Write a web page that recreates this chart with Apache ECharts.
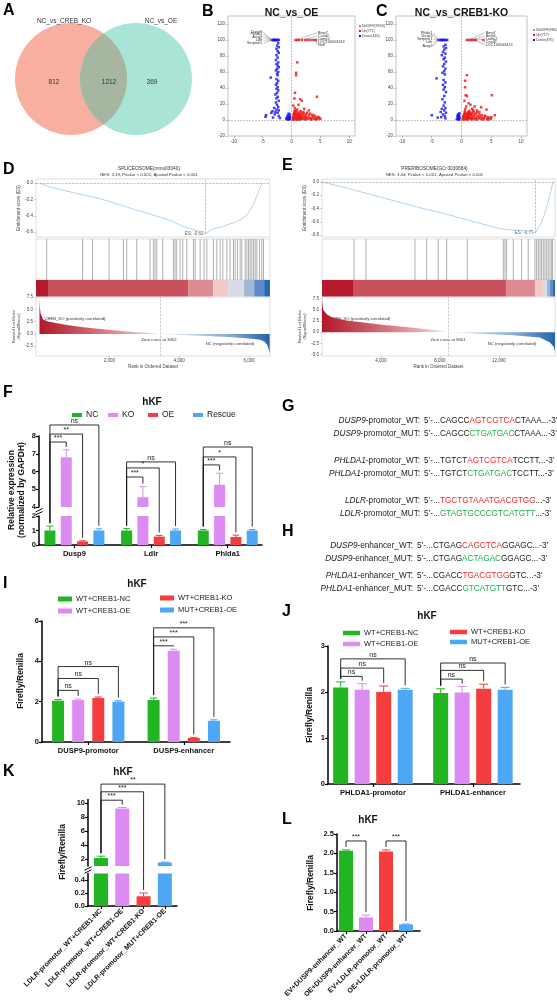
<!DOCTYPE html>
<html>
<head>
<meta charset="utf-8">
<script src="https://cdn.jsdelivr.net/npm/echarts@6/dist/echarts.min.js"></script>
<style>
  html, body { margin: 0; padding: 0; background: #fff; }
  #chart { width: 557px; height: 1002px; }
</style>
</head>
<body>
<div id="chart"></div>
<script>
// ---------------- data ----------------
const vennSets = ['NC_vs_CREB_KO', 'NC_vs_OE']
const vennCounts = [812, 1212, 369]

const bTitle = 'NC_vs_OE'
const cTitle = 'NC_vs_CREB1-KO'
const bLegend = ['NoDIFF(9953)', 'Up(771)', 'Down(446)']
const cLegend = ['NoDIFF(9802)', 'Up(717)', 'Down(495)']
const volcXTicks = [-10, -5, 0, 5, 10]
const volcYTicks = [-20, 0, 20, 40, 60, 80, 100, 120]

const bBlue = [[-3.4,100],[-3.2,100],[-3.0,100],[-2.8,100],[-2.6,100],[-2.4,100],[-2.2,100],[-3.1,100],[-2.9,100],[-2.5,100],
  [-2.3,96],[-2.5,93],[-2.2,91],[-2.6,89],[-2.4,86],[-2.2,84],[-2.6,81],[-2.4,78],[-2.7,75],[-2.3,72],[-2.6,70],[-2.4,68],[-2.2,66],[-2.5,64],[-2.7,62],[-2.3,60],[-2.5,58],[-2.4,56],[-3.6,53],[-2.6,51],[-2.3,49],[-2.5,46],[-2.7,44],[-2.4,41],[-2.6,39],[-2.3,37],[-2.5,34],[-2.8,32],[-2.4,29],[-2.6,27],[-2.2,24],[-2.7,22],[-2.5,19],[-2.3,16],[-3.0,15],[-2.6,13],[-2.2,12],[-3.3,11],[-2.8,10],[-2.4,9],[-3.5,9],[-2.9,7],[-4.4,6],[-4.5,4],[-2.2,5],[-3.2,3],[-2.0,2.5],
  [-0.4,0.5],[-0.6,1.2],[-0.3,2],[-0.8,2.6],[-0.5,3.4],[-0.4,4.5],[-0.7,5.5],[-0.3,6.8],[-0.5,8],[-0.9,1.5],[-0.6,0.3],[-0.35,1.0],[-0.45,2.8],[-0.55,4.0],[-0.3,3.5]]
const bRed = [[0.7,100],[1.0,100],[1.3,100],[1.8,100],[2.4,100],[2.8,100],[3.3,100],[3.8,100],[4.2,100],
  [1.0,72],[0.8,59],[0.8,56],[0.6,34],[0.5,27],[1.5,26],[1.8,24],[4.4,29],[0.3,18],[1.2,19],[0.6,15],[2.2,14],[1.0,13],[3.0,12],
  [0.2,0.5],[0.3,1.5],[0.4,3],[0.5,5],[0.5,8],[0.6,10],[0.7,2],[0.8,4],[0.9,6],[1.0,9],[1.1,1],[1.2,3],[1.3,5],[1.4,7],[1.5,2],[1.6,11],[1.7,4],[1.8,1.5],[1.9,6],[2.0,3],[2.1,8],[2.2,1],[2.3,5],[2.4,2.5],[2.6,4],[2.8,1.5],[3.0,6],[3.1,3],[3.3,1],[3.5,2.5],[3.7,4.5],[3.9,1.5],[4.1,3],[4.4,1],[4.7,2],[5.0,1.5],
  [0.25,4],[0.35,6.5],[0.45,9],[0.55,12],[0.65,7],[0.75,0.8],[0.85,11],[0.95,2.8],[1.05,4.8],[1.15,7.5],[1.25,0.6],[1.35,9.5],[1.45,3.6],[1.55,5.8],[1.75,8.5],[2.05,10],[2.5,7],[2.7,9],[3.2,8],[3.6,6.5],[4.0,5.5],[4.5,4],[4.8,3.2],[0.3,0.3],[0.9,0.4],[1.6,0.5],[2.5,0.6],[3.4,0.4],[4.2,0.5]]
const cBlue = [[-3.9,100],[-3.6,100],[-3.3,100],[-3.0,100],[-2.8,100],[-2.6,100],[-2.4,100],[-3.45,100],[-3.15,100],
  [-2.7,94],[-3.0,92],[-2.6,90],[-2.9,88],[-3.1,85],[-2.7,83],[-3.3,81],[-2.8,78],[-3.0,76],[-2.6,73],[-2.9,70],[-3.1,67],[-2.7,64],[-2.9,61],[-3.2,59],[-2.8,57],[-4.2,52],[-3.0,50],[-2.7,47],[-3.1,44],[-2.8,41],[-3.0,38],[-2.6,35],[-2.9,30],[-3.2,26],[-2.8,22],[-3.0,18],[-2.7,15],[-3.3,14],[-2.9,12],[-3.5,10],[-2.6,9],[-3.1,7],[-2.8,5],[-5.0,6],[-4.0,3],[-3.4,3.5],[-2.7,2],
  [-0.4,0.5],[-0.6,1.5],[-0.3,2.5],[-0.5,3.5],[-0.7,4.5],[-0.4,5.5],[-0.6,7],[-0.35,8.5],[-0.8,1],[-0.5,0.3],[-0.45,6.3],[-0.55,2.2]]
const cRed = [[0.9,100],[1.2,100],[1.5,100],[1.8,100],[2.1,100],[2.4,100],[3.7,100],
  [0.9,56],[0.6,49],[0.6,41],[0.7,31],[0.9,30],[5.1,31],[0.5,24],[1.2,21],[1.5,19],[2.2,17],[3.3,16],[1.8,14],[0.8,17],[2.6,12],[4.2,13],[3.0,10],[5.6,6],[5.0,3.5],
  [0.2,0.6],[0.3,2],[0.4,3.5],[0.5,6],[0.6,9],[0.7,1.2],[0.8,3],[0.9,5],[1.0,7.5],[1.1,10],[1.2,2],[1.3,4],[1.4,6],[1.5,8.5],[1.6,1],[1.7,3],[1.8,5.5],[1.9,12],[2.0,2],[2.1,4.5],[2.2,7],[2.3,1],[2.5,3],[2.7,5],[2.9,2],[3.1,4],[3.3,1.5],[3.5,3],[3.8,2],[4.0,4.5],[4.3,1],[4.6,2.5],[4.9,1.5],
  [0.3,5],[0.45,7.5],[0.55,11],[0.65,14],[0.75,4],[0.85,8],[0.95,1],[1.05,3.5],[1.15,6],[1.25,9],[1.35,11.5],[1.45,2.5],[1.65,7],[1.85,9],[2.05,10.5],[2.4,8],[2.6,9.5],[3.0,7],[3.4,6],[3.9,5.5],[4.4,3.5],[0.4,0.3],[1.0,0.4],[1.8,0.5],[2.6,0.5],[3.6,0.4],[4.5,0.4]]

// gene labels: [text x, text y, point x, point y]
const bLabelNames = ['Dusp9', 'Phlda1', 'Arsg3', 'Ldlr', 'Serpine1', 'Bmp7', 'Ccnd2', 'Lamp2', 'LOC100503413', 'Nefl']
const bLabelPts = [[-4.9,110,-3.4,100],[-4.9,107.5,-3.4,100],[-4.9,104,-3.4,100],[-4.9,100,-3.4,100],[-4.9,96,-3.4,100],
  [4.4,109,0.7,100],[4.4,105,1.8,100],[4.4,101,2.8,100],[4.4,98,3.8,100],[4.4,94,4.2,100]]
const cLabelNames = ['Phlda1', 'Dusp9', 'Serpine1', 'Ldlr', 'Arsg3', 'Bmp7', 'Bmp6', 'Lamp2', 'Ccnd2', 'LOC100503413']
const cLabelPts = [[-4.7,109,-3.9,100],[-4.7,105.5,-3.9,100],[-4.7,101,-3.9,100],[-4.7,97,-3.9,100],[-4.7,93,-3.9,100],
  [3.9,109,1.2,100],[3.9,105,1.8,100],[3.9,101,2.4,100],[3.9,97.5,3.7,100],[3.9,94,2.1,100]]

// GSEA D
const dTitle = 'SPLICEOSOME(mmu03040)'
const dStats = 'NES: 3.19, Pvalue < 0.001, Ajusted Pvalue < 0.001'
const dEsRank = [0, 243, 600, 1000, 1733, 2400, 3166, 3700, 4112, 4500, 4742, 4971, 5100, 5250, 5372, 5450, 5544, 5650, 5745, 5946, 6117, 6261, 6375]
const dEsVal = [0, -0.04, -0.08, -0.12, -0.19, -0.28, -0.38, -0.45, -0.53, -0.58, -0.62, -0.56, -0.55, -0.53, -0.51, -0.5, -0.49, -0.47, -0.45, -0.39, -0.27, -0.12, 0]
const dPeak = [4742, -0.62]
const dHits = [206, 1232, 1519, 1991, 2401, 2498, 2785, 3166, 3261, 3309, 3358, 3530, 3834, 3882, 3930, 4026, 4103, 4218, 4408, 4456, 4599, 4713, 4790, 4981, 5077, 5172, 5249, 5364, 5458, 5554, 5602, 5668, 5745, 5793, 5888, 5937, 5985, 6032, 6080, 6129, 6175, 6224, 6298, 6366, 6413]
const dBandEdges = [-100, 244, 4255, 4971, 5401, 5859, 6146, 6433, 6600]
const dMetricRank = [0, 10, 30, 100, 250, 500, 788, 1200, 1733, 2200, 2679, 3100, 3452, 4000, 4599, 5100, 5544, 6000, 6318, 6450, 6519, 6560, 6590]
const dMetricVal = [7.4, 5.5, 4.2, 2.9, 2.5, 2.15, 1.8, 1.4, 1.0, 0.7, 0.4, 0.18, 0, -0.2, -0.4, -0.55, -0.7, -0.95, -1.2, -1.6, -2.2, -3.0, -3.9]
const dZero = 3452

// GSEA E
const eTitle = 'PRERIBOSOME(GO:0030684)'
const eStats = 'NES: 3.44, Pvalue < 0.001, Ajusted Pvalue < 0.001'
const eEsRank = [0, 1500, 2300, 3000, 4000, 5000, 6000, 7000, 8000, 9000, 10000, 11000, 12000, 12600, 13500, 14000, 14441, 14800, 15100, 15400, 15660]
const eEsVal = [0, -0.08, -0.13, -0.17, -0.23, -0.29, -0.35, -0.41, -0.46, -0.52, -0.58, -0.64, -0.7, -0.72, -0.73, -0.74, -0.77, -0.65, -0.48, -0.25, 0]
const ePeak = [14441, -0.77]
const eHits = [2169, 2983, 6305, 7098, 7885, 8454, 9851, 12292, 12407, 12520, 12969, 13537, 13983, 14441, 14554, 14667, 14780, 14893, 15006, 15119, 15232, 15345, 15458, 15571, 15638]
const eBandEdges = [0, 2102, 12475, 14441, 14983, 15254, 15458, 15661, 15800]
const eMetricRank = [0, 68, 339, 746, 1675, 3932, 6170, 8454, 8561, 10712, 12949, 14780, 15458, 15700, 15797]
const eMetricVal = [7.3, 5.0, 3.9, 3.2, 2.6, 1.7, 1.0, 0.15, 0, -0.35, -0.7, -1.2, -2.3, -3.2, -4.2]
const eZero = 8561

// F: qPCR
const fGenes = ['Dusp9', 'Ldlr', 'Phlda1']
const fConds = ['NC', 'KO', 'OE', 'Rescue']
const fMean = [[1.0, 6.8, 0.25, 1.0], [1.0, 4.55, 0.58, 1.0], [1.0, 5.25, 0.55, 1.0]]
const fErr = [[0.3, 0.42, 0.04, 0.12], [0.13, 0.6, 0.08, 0.1], [0.07, 0.65, 0.13, 0.07]]
// [group, from bar, to bar, bracket height, label]
const fSig = [[0, 0, 1, 7.66, '***'], [0, 0, 2, 8.11, '**'], [0, 0, 3, 8.62, 'ns'],
  [1, 0, 1, 5.69, '***'], [1, 0, 2, 6.2, '*'], [1, 0, 3, 6.54, 'ns'],
  [2, 0, 1, 6.37, '***'], [2, 0, 2, 6.82, '*'], [2, 0, 3, 7.38, 'ns']]

// G / H: binding sites [gene, site, before, motif, after, kind]
const gRows = [
  ['DUSP9', '-promotor_WT:', '5\u2019-...CAGCC', 'AGTCGTCA', 'CTAAA...-3\u2019', 'wt'],
  ['DUSP9', '-promotor_MUT:', '5\u2019-...CAGCC', 'CTGATGAC', 'CTAAA...-3\u2019', 'mut'],
  ['PHLDA1', '-promotor_WT:', '5\u2019-...TGTCT', 'AGTCGTCA', 'TCCTT...-3\u2019', 'wt'],
  ['PHLDA1', '-promotor_MUT:', '5\u2019-...TGTCT', 'CTGATGAC', 'TCCTT...-3\u2019', 'mut'],
  ['LDLR', '-promotor_WT:', '5\u2019-...', 'TGCTGTAAATGACGTGG', '...-3\u2019', 'wt'],
  ['LDLR', '-promotor_MUT:', '5\u2019-...', 'GTAGTGCCCGTCATGTT', '...-3\u2019', 'mut']]
const hRows = [
  ['DUSP9', '-enhancer_WT:', '5\u2019-...CTGAG', 'CAGCTCA', 'GGAGC...-3\u2019', 'wt'],
  ['DUSP9', '-enhancer_MUT:', '5\u2019-...CTGAG', 'ACTAGAC', 'GGAGC...-3\u2019', 'mut'],
  ['PHLDA1', '-enhancer_WT:', '5\u2019-...CGACC', 'TGACGTGG', 'GTC...-3\u2019', 'wt'],
  ['PHLDA1', '-enhancer_MUT:', '5\u2019-...CGACC', 'GTCATGTT', 'GTC...-3\u2019', 'mut']]

// I / J: luciferase
const lucConds = ['WT+CREB1-NC', 'WT+CREB1-OE', 'WT+CREB1-KO', 'MUT+CREB1-OE']
const iGroups = ['DUSP9-promotor', 'DUSP9-enhancer']
const iMean = [[2.05, 2.08, 2.18, 2.0], [2.08, 4.52, 0.2, 1.05]]
const iErr = [[0.06, 0.05, 0.05, 0.05], [0.1, 0.08, 0.03, 0.05]]
const iSig = [[0, 0, 1, 2.56, 'ns'], [0, 0, 2, 3.15, 'ns'], [0, 0, 3, 3.74, 'ns'],
  [1, 0, 1, 4.77, '***'], [1, 0, 2, 5.21, '***'], [1, 0, 3, 5.66, '***']]
const jGroups = ['PHLDA1-promotor', 'PHLDA1-enhancer']
const jMean = [[2.1, 2.05, 2.0, 2.05], [1.98, 1.99, 2.07, 2.05]]
const jErr = [[0.12, 0.13, 0.13, 0.03], [0.09, 0.13, 0.1, 0.05]]
const jSig = [[0, 0, 1, 2.34, 'ns'], [0, 0, 2, 2.52, 'ns'], [0, 0, 3, 2.72, 'ns'],
  [1, 0, 1, 2.28, 'ns'], [1, 0, 2, 2.47, 'ns'], [1, 0, 3, 2.63, 'ns']]

// K / L
const kNames = ['LDLR-promotor_WT+CREB1-NC', 'LDLR-promotor_WT+CREB1-OE', 'LDLR-promotor_WT+CREB1-KO', 'LDLR-promotor_MUT+CREB1-OE']
const kMean = [[2.15, 9.2, 0.15, 1.5]]
const kErr = [[0.25, 0.15, 0.05, 0.05]]
const kSig = [[0, 0, 1, 10.4, '***'], [0, 0, 2, 11.6, '***'], [0, 0, 3, 12.7, '**']]
const lNames = ['EV+DUSP9-enhancer_WT', 'OE+DUSP9-enhancer_WT', 'EV+LDLR-promotor_WT', 'OE+LDLR-promotor_WT']
const lMean = [[2.07, 0.35, 2.05, 0.17]]
const lErr = [[0.02, 0.06, 0.04, 0.01]]
const lSig = [[0, 0, 1, 2.32, '***'], [0, 2, 3, 2.32, '***']]

// ---------------- styles ----------------
const FONT = 'Liberation Sans, Arial, Helvetica, sans-serif'
const COND_COLORS = ['#22B522', '#DB8BF2', '#F53D3D', '#4EA7F5']
const BAND_COLORS = ['#B5192D', '#C9515D', '#DC8C91', '#F2CACA', '#D9DCE6', '#9EB7D7', '#5F8CC6', '#2A66B0']

function hasFont(name) {
  const c = document.createElement('canvas').getContext('2d')
  c.font = '20px monospace'
  const a = c.measureText('DUSP9-promotor_WT').width
  c.font = '20px "' + name + '", monospace'
  return c.measureText('DUSP9-promotor_WT').width !== a
}
const NARROW = hasFont('Liberation Sans Narrow')
const SEQ_FONT = NARROW ? '"Liberation Sans Narrow", sans-serif' : FONT
const SEQ_SIZE = NARROW ? 9.8 : 8.2

const grids = [], xAxes = [], yAxes = [], series = [], graphics = []

function addGrid(g, x, y) {
  grids.push(g)
  const i = grids.length - 1
  x.gridIndex = i
  y.gridIndex = i
  x.axisLine = Object.assign({ onZero: false }, x.axisLine || {})
  y.axisLine = Object.assign({ onZero: false }, y.axisLine || {})
  xAxes.push(x)
  yAxes.push(y)
  return i
}

function txt(x, y, text, o) {
  o = o || {}
  graphics.push({
    type: 'text', x: x, y: y, rotation: o.rotation || 0, silent: true,
    style: {
      text: text, fontSize: o.size || 8, fontWeight: o.weight || 'normal', fontStyle: o.style || 'normal',
      fontFamily: o.family || FONT, fill: o.color || '#111',
      align: o.align || 'center', verticalAlign: o.valign || 'middle'
    }
  })
}
function seg(x1, y1, x2, y2, color, w) {
  graphics.push({ type: 'line', silent: true, shape: { x1: x1, y1: y1, x2: x2, y2: y2 }, style: { stroke: color, lineWidth: w } })
}
function box(x, y, w, h, color) {
  graphics.push({ type: 'rect', silent: true, shape: { x: x, y: y, width: w, height: h }, style: { fill: color } })
}

// ---------------- A: venn ----------------
const vennL = [71, 79, 56], vennR = [136, 79, 56]
graphics.push({ type: 'circle', silent: true, shape: { cx: vennL[0], cy: vennL[1], r: vennL[2] }, style: { fill: '#F9AF9F' } })
graphics.push({ type: 'circle', silent: true, shape: { cx: vennR[0], cy: vennR[1], r: vennR[2] }, style: { fill: '#A9E4D7' } })
;(function () {
  // overlap lens outline from the two circle arcs
  const half = Math.acos((vennR[0] - vennL[0]) / 2 / vennL[2])
  const pts = []
  for (let k = 0; k <= 40; k++) {
    const a = -half + 2 * half * k / 40
    pts.push([vennL[0] + vennL[2] * Math.cos(a), vennL[1] + vennL[2] * Math.sin(a)])
  }
  for (let k = 0; k <= 40; k++) {
    const a = Math.PI - half + 2 * half * k / 40
    pts.push([vennR[0] + vennR[2] * Math.cos(a), vennR[1] + vennR[2] * Math.sin(a)])
  }
  graphics.push({ type: 'polygon', silent: true, shape: { points: pts }, style: { fill: '#A6B6A1' } })
})()
txt(64, 21, vennSets[0], { size: 6.5, color: '#333' })
txt(161, 21, vennSets[1], { size: 6.5, color: '#333' })
txt(54, 82, String(vennCounts[0]), { size: 6.5, color: '#333' })
txt(109, 82, String(vennCounts[1]), { size: 6.5, color: '#333' })
txt(152, 82, String(vennCounts[2]), { size: 6.5, color: '#333' })

// ---------------- B, C: volcano ----------------
function volcLabelItem(names) {
  return function (params, api) {
    const t = api.coord([api.value(0), api.value(1)])
    const q = api.coord([api.value(2), api.value(3)])
    const left = api.value(0) < 0
    return {
      type: 'group', children: [
        { type: 'line', shape: { x1: t[0], y1: t[1], x2: q[0], y2: q[1] }, style: { stroke: '#666', lineWidth: 0.4 } },
        { type: 'text', x: t[0] + (left ? -1 : 1), y: t[1], style: { text: names[params.dataIndex], fontSize: 3.8, fontFamily: FONT, fill: '#333', align: left ? 'right' : 'left', verticalAlign: 'middle' } }
      ]
    }
  }
}
function volcano(p) {
  const tiny = { fontSize: 4.5, color: '#444', fontFamily: FONT, margin: 3 }
  const tick = { show: true, length: 2, lineStyle: { color: '#777', width: 0.5 } }
  const g = addGrid({ left: p.left, top: 16, width: p.width, height: 120, show: true, borderColor: '#999', borderWidth: 0.6 },
    { type: 'value', min: -11, max: 11, axisLine: { show: false }, splitLine: { show: false },
      axisTick: Object.assign({ customValues: volcXTicks }, tick), axisLabel: Object.assign({ customValues: volcXTicks }, tiny) },
    { type: 'value', min: -20, max: 130, axisLine: { show: false }, splitLine: { show: false },
      axisTick: Object.assign({ customValues: volcYTicks }, tick), axisLabel: Object.assign({ customValues: volcYTicks }, tiny) })
  series.push({ type: 'scatter', xAxisIndex: g, yAxisIndex: g, data: p.blue, symbol: 'rect', symbolSize: 2.5, itemStyle: { color: '#1414EE' }, silent: true,
    markLine: { silent: true, symbol: 'none', label: { show: false }, lineStyle: { color: '#888', type: 'dashed', width: 0.5 }, data: [{ xAxis: 0 }, { yAxis: 0 }] } })
  series.push({ type: 'scatter', xAxisIndex: g, yAxisIndex: g, data: p.red, symbol: 'rect', symbolSize: 2.5, itemStyle: { color: '#EE1414' }, silent: true })
  series.push({ type: 'custom', xAxisIndex: g, yAxisIndex: g, data: p.labelPts, encode: { x: [0, 2], y: [1, 3] }, renderItem: volcLabelItem(p.labelNames), silent: true, z: 5 })
  txt(p.left + p.width / 2, 13, p.title, { size: 10.5, weight: 'bold', color: '#111' })
  const lc = ['#9a9a9a', '#EE1414', '#1414EE']
  p.legend.forEach((t, k) => {
    box(p.legX, p.legY + k * 5 - 1, 2, 2, lc[k])
    txt(p.legX + 3, p.legY + k * 5, t, { size: 3.6, align: 'left', color: '#444' })
  })
}
volcano({ left: 228, width: 127, title: bTitle, blue: bBlue, red: bRed, labelNames: bLabelNames, labelPts: bLabelPts, legend: bLegend, legX: 359, legY: 26 })
volcano({ left: 396, width: 131, title: cTitle, blue: cBlue, red: cRed, labelNames: cLabelNames, labelPts: cLabelPts, legend: cLegend, legX: 533, legY: 30 })

// ---------------- D, E: GSEA ----------------
function hitItem(params, api) {
  const b = api.coord([api.value(0), 0]), t = api.coord([api.value(0), 1])
  return { type: 'line', shape: { x1: b[0], y1: b[1], x2: b[0], y2: t[1] }, style: { stroke: '#8c8c8c', lineWidth: 0.7 } }
}
function bandItem(params, api) {
  const a = api.coord([api.value(0), 1]), b = api.coord([api.value(1), 0])
  return { type: 'rect', shape: { x: a[0], y: a[1], width: b[0] - a[0], height: b[1] - a[1] }, style: { fill: BAND_COLORS[params.dataIndex] } }
}
function gsea(p) {
  const tiny = { fontSize: 4.5, color: '#444', fontFamily: FONT }
  const tick = { show: true, length: 1.5, lineStyle: { color: '#888', width: 0.5 } }
  const hidden = () => ({ type: 'value', min: p.xmin, max: p.xmax, axisLine: { show: false }, axisTick: { show: false }, axisLabel: { show: false }, splitLine: { show: false } })
  const border = { show: true, borderColor: '#bdbdbd', borderWidth: 0.5 }
  // enrichment score
  let g = addGrid(Object.assign({ left: p.left, top: 179, width: p.width, height: 58 }, border), hidden(),
    { type: 'value', min: p.esMin, max: p.esMax, splitLine: { show: false }, axisLine: { show: false },
      axisTick: Object.assign({ customValues: p.esTicks }, tick),
      axisLabel: Object.assign({ customValues: p.esTicks, formatter: v => v.toFixed(1), margin: 3 }, tiny),
      name: 'Enrichment score (ES)', nameLocation: 'middle', nameGap: 13, nameTextStyle: tiny })
  series.push({ type: 'line', xAxisIndex: g, yAxisIndex: g, data: p.esRank.map((r, i) => [r, p.esVal[i]]), showSymbol: false, silent: true,
    lineStyle: { color: '#9DC9EA', width: 0.8 },
    markLine: { silent: true, symbol: 'none', label: { show: false }, lineStyle: { color: '#9a9a9a', type: 'dashed', width: 0.6 },
      data: [{ yAxis: 0 }, [{ coord: [p.peak[0], p.peak[1]] }, { coord: [p.peak[0], p.esMax] }]] } })
  series.push({ type: 'scatter', xAxisIndex: g, yAxisIndex: g, data: [p.peak], symbolSize: 1, itemStyle: { color: 'rgba(0,0,0,0)' }, silent: true,
    label: { show: true, position: 'left', distance: 1, formatter: 'ES: ' + p.peak[1].toFixed(2), fontSize: 4.5, color: '#333', fontFamily: FONT } })
  // hits
  g = addGrid(Object.assign({ left: p.left, top: 239, width: p.width, height: 41 }, border), hidden(), { type: 'value', min: 0, max: 1, show: false })
  series.push({ type: 'custom', xAxisIndex: g, yAxisIndex: g, data: p.hits.map(h => [h, 0]), encode: { x: 0, y: 1 }, renderItem: hitItem, silent: true })
  // heat band
  g = addGrid({ left: p.left, top: 280, width: p.width, height: 16.5 }, hidden(), { type: 'value', min: 0, max: 1, show: false })
  const pairs = p.band.slice(0, -1).map((s, i) => [s, p.band[i + 1]])
  series.push({ type: 'custom', xAxisIndex: g, yAxisIndex: g, data: pairs, encode: { x: [0, 1] }, renderItem: bandItem, silent: true })
  // ranked metric
  g = addGrid(Object.assign({ left: p.left, top: 297, width: p.width, height: 59 }, border),
    { type: 'value', min: p.xmin, max: p.xmax, splitLine: { show: false }, axisLine: { show: false },
      axisTick: Object.assign({ customValues: p.xTicks }, tick),
      axisLabel: Object.assign({ customValues: p.xTicks, margin: 2 }, tiny),
      name: 'Rank in Ordered Dataset', nameLocation: 'middle', nameGap: 8, nameTextStyle: tiny },
    { type: 'value', min: p.mMin, max: p.mMax, splitLine: { show: false }, axisLine: { show: false },
      axisTick: Object.assign({ customValues: p.mTicks }, tick),
      axisLabel: Object.assign({ customValues: p.mTicks, formatter: v => v.toFixed(1), margin: 3 }, tiny),
      name: 'Ranked List Metric\n(Signal2Noise)', nameLocation: 'middle', nameGap: 10, nameTextStyle: { fontSize: 4, color: '#444', fontFamily: FONT, lineHeight: 5 } })
  const pts = p.mRank.map((r, i) => [r, p.mVal[i]])
  series.push({ type: 'line', xAxisIndex: g, yAxisIndex: g, data: pts.filter(d => d[1] >= 0), showSymbol: false, silent: true, lineStyle: { width: 0 },
    areaStyle: { opacity: 1, color: new echarts.graphic.LinearGradient(0, 0, 1, 0, [{ offset: 0, color: '#B2182B' }, { offset: 0.45, color: '#CE6A72' }, { offset: 1, color: '#F4DADA' }]) },
    markLine: { silent: true, symbol: 'none', label: { show: false }, lineStyle: { color: '#aaa', type: 'dashed', width: 0.6 }, data: [{ xAxis: p.zero }] } })
  series.push({ type: 'line', xAxisIndex: g, yAxisIndex: g, data: pts.filter(d => d[1] <= 0), showSymbol: false, silent: true, lineStyle: { width: 0 },
    areaStyle: { opacity: 1, color: new echarts.graphic.LinearGradient(0, 0, 1, 0, [{ offset: 0, color: '#E8EEF6' }, { offset: 0.6, color: '#8EAFD6' }, { offset: 1, color: '#2563AD' }]) } })
  txt(p.left + p.width / 2 - 4, 168.5, p.title, { size: 4.8, color: '#333' })
  txt(p.left + p.width / 2 - 4, 174.5, p.stats, { size: 4.3, color: '#333' })
  txt(p.posX, 318.5, 'CREB_KO (positively correlated)', { size: 4.2, color: '#333' })
  txt(p.zeroX, 339.5, 'Zero cross at ' + p.zero, { size: 4.2, color: '#333' })
  txt(p.negX, 343.5, 'NC (negatively correlated)', { size: 4.2, color: '#333' })
}
gsea({ left: 36, width: 234, xmin: -100, xmax: 6600, esMin: -0.66, esMax: 0.05, esTicks: [0, -0.2, -0.4, -0.6],
  esRank: dEsRank, esVal: dEsVal, peak: dPeak, hits: dHits, band: dBandEdges, mRank: dMetricRank, mVal: dMetricVal,
  mMin: -4.5, mMax: 7.5, mTicks: [7.5, 5, 2.5, 0, -2.5], xTicks: [2000, 4000, 6000], zero: dZero,
  title: dTitle, stats: dStats, posX: 75, zeroX: 159, negX: 230 })
gsea({ left: 322, width: 233, xmin: 0, xmax: 15800, esMin: -0.83, esMax: 0.045, esTicks: [0, -0.2, -0.4, -0.6, -0.8],
  esRank: eEsRank, esVal: eEsVal, peak: ePeak, hits: eHits, band: eBandEdges, mRank: eMetricRank, mVal: eMetricVal,
  mMin: -5.3, mMax: 7.8, mTicks: [7.5, 5, 2.5, 0, -2.5, -5], xTicks: [4000, 8000, 12000], zero: eZero,
  title: eTitle, stats: eStats, posX: 360, zeroX: 448, negX: 512 })

// ---------------- bar panels ----------------
function errItem(bw) {
  return function (params, api) {
    const c = COND_COLORS[api.value(3)]
    const a = api.coord([api.value(0), api.value(1)]), b = api.coord([api.value(0), api.value(2)])
    const h = bw * 0.3
    return { type: 'group', children: [
      { type: 'line', shape: { x1: a[0], y1: a[1], x2: b[0], y2: b[1] }, style: { stroke: c, lineWidth: 1 } },
      { type: 'line', shape: { x1: b[0] - h, y1: b[1], x2: b[0] + h, y2: b[1] }, style: { stroke: c, lineWidth: 1 } }] }
  }
}
function sigItem(p, k, texts) {
  return function (params, api) {
    const s = p.segs[k]
    const x1 = api.value(0), x2 = api.value(1), lv = api.value(2)
    const ends = [[x1, api.value(3)], [x2, api.value(4)]]
    const st = { stroke: '#1a1a1a', lineWidth: 0.9 }
    const kids = []
    const pad = 3
    if (k === 0) {
      const a = api.coord([x1, lv]), b = api.coord([x2, lv])
      kids.push({ type: 'line', shape: { x1: a[0], y1: a[1], x2: b[0], y2: b[1] }, style: st })
      ends.forEach(e => {
        const t = api.coord([e[0], lv])
        const bottom = (e[1] >= s.min || p.segs.length === 1) ? api.coord([e[0], e[1]])[1] - pad : p.segs[1].top
        kids.push({ type: 'line', shape: { x1: t[0], y1: t[1], x2: t[0], y2: bottom }, style: st })
      })
      kids.push({ type: 'text', x: (a[0] + b[0]) / 2, y: a[1] - 0.5, style: { text: texts[params.dataIndex], fontSize: 7, fontFamily: FONT, fill: '#1a1a1a', align: 'center', verticalAlign: 'bottom' } })
    } else {
      ends.forEach(e => {
        if (e[1] < p.segs[0].min) {
          const t = api.coord([e[0], s.max]), b = api.coord([e[0], e[1]])
          kids.push({ type: 'line', shape: { x1: t[0], y1: t[1], x2: t[0], y2: b[1] - pad }, style: st })
        }
      })
    }
    return { type: 'group', children: kids }
  }
}
function barPanel(p) {
  const n = p.mean[0].length
  const xOf = (g, i) => g * p.step + i
  const bars = [], errs = []
  p.mean.forEach((row, g) => row.forEach((v, i) => {
    bars.push({ value: [xOf(g, i), v], itemStyle: { color: COND_COLORS[i] } })
    errs.push([xOf(g, i), v, v + p.err[g][i], i])
  }))
  const perBar = !!p.barNames
  const tickVals = perBar ? bars.map(b => b.value[0]) : p.groups.map((_, g) => xOf(g, (n - 1) / 2))
  const tickText = perBar ? p.barNames : p.groups
  const nameAt = v => { const k = tickVals.findIndex(t => Math.abs(t - v) < 1e-6); return k < 0 ? '' : tickText[k] }
  const sig = p.sig.map(s => [xOf(s[0], s[1]), xOf(s[0], s[2]), s[3], p.mean[s[0]][s[1]] + p.err[s[0]][s[1]], p.mean[s[0]][s[2]] + p.err[s[0]][s[2]]])
  const sigText = p.sig.map(s => s[4])
  const axisLine = { show: true, lineStyle: { color: '#000', width: 1.5 } }
  const tick = { length: 3, lineStyle: { color: '#000', width: 1.2 } }
  const lab = { fontSize: 7.5, fontWeight: 'bold', color: '#111', fontFamily: FONT }
  p.segs.forEach((s, k) => {
    const last = k === p.segs.length - 1
    const gi = addGrid({ left: p.left, top: s.top, width: p.width, height: s.height },
      { type: 'value', min: p.xmin, max: p.xmax, splitLine: { show: false },
        axisLine: Object.assign({}, axisLine, { show: last }),
        axisTick: Object.assign({ show: last, customValues: tickVals }, tick),
        axisLabel: Object.assign({}, lab, { show: last, customValues: tickVals, formatter: nameAt, rotate: p.rotate || 0, margin: p.labelMargin || 5, fontSize: p.xFont || 7.5 }) },
      { type: 'value', min: s.min, max: s.max, splitLine: { show: false },
        axisLine: Object.assign({}, axisLine),
        axisTick: Object.assign({ show: true, customValues: s.ticks }, tick),
        axisLabel: Object.assign({}, lab, { customValues: s.ticks, formatter: s.fmt || (v => String(v)), margin: 3 }) })
    series.push({ type: 'bar', xAxisIndex: gi, yAxisIndex: gi, data: bars, barWidth: p.barWidth, clip: true, silent: true, z: 2 })
    series.push({ type: 'custom', xAxisIndex: gi, yAxisIndex: gi, data: errs, clip: true, silent: true, encode: { x: 0, y: [1, 2] }, renderItem: errItem(p.barWidth), z: 3 })
    series.push({ type: 'custom', xAxisIndex: gi, yAxisIndex: gi, data: sig, clip: false, silent: true, encode: { x: [0, 1], y: [2, 3, 4] }, renderItem: sigItem(p, k, sigText), z: 4 })
  })
  if (p.segs.length > 1) {
    const gTop = p.segs[0].top + p.segs[0].height, gBot = p.segs[1].top
    const m = (gTop + gBot) / 2, x = p.left
    seg(x - 3.5, m + 0.5, x + 3.5, m - 3, '#000', 1)
    seg(x - 3.5, m + 3.5, x + 3.5, m, '#000', 1)
  }
  if (p.title) txt(p.title[0], p.title[1], 'hKF', { size: 10, weight: 'bold' })
  p.yName.forEach(t => txt(t[0], t[1], t[2], { size: 8.5, weight: 'bold', rotation: Math.PI / 2 }))
}
function legendItems(items, w, h, size) {
  items.forEach(it => {
    box(it[0], it[1] - h / 2, w, h, COND_COLORS[it[2]])
    txt(it[0] + w + 4, it[1], it[3], { size: size, align: 'left', color: '#222' })
  })
}

// F
barPanel({ left: 39, width: 223, xmin: -0.67, xmax: 13.0, step: 4.7, barWidth: 11,
  segs: [{ top: 436, height: 71, min: 4, max: 8, ticks: [4, 5, 6, 7, 8] }, { top: 516, height: 29, min: 0, max: 2, ticks: [0, 1, 2] }],
  mean: fMean, err: fErr, sig: fSig, groups: fGenes, title: [152, 402],
  yName: [[12, 490, 'Relative expression'], [22, 490, '(normalized by GAPDH)']] })
legendItems([[72, 415, 0, fConds[0]], [108, 415, 1, fConds[1]], [148, 415, 2, fConds[2]], [193, 415, 3, fConds[3]]], 10, 4, 8.5)

// I
barPanel({ left: 42, width: 188, xmin: -0.8, xmax: 8.55, step: 4.75, barWidth: 12,
  segs: [{ top: 621, height: 121, min: 0, max: 6, ticks: [0, 2, 4, 6] }],
  mean: iMean, err: iErr, sig: iSig, groups: iGroups, title: [137, 584],
  yName: [[21, 681, 'Firefly/Renilla']] })
legendItems([[58, 599, 0, lucConds[0]], [58, 611, 1, lucConds[1]], [160, 598, 2, lucConds[2]], [160, 610, 3, lucConds[3]]], 14, 5, 7.5)

// J
barPanel({ left: 328, width: 192, xmin: -0.59, xmax: 8.34, step: 4.65, barWidth: 15,
  segs: [{ top: 646, height: 138, min: 0, max: 3, ticks: [0, 1, 2, 3] }],
  mean: jMean, err: jErr, sig: jSig, groups: jGroups, title: [427, 616],
  yName: [[310, 715, 'Firefly/Renilla']] })
legendItems([[343, 633, 0, lucConds[0]], [343, 644, 1, lucConds[1]], [450, 632, 2, lucConds[2]], [450, 642, 3, lucConds[3]]], 17, 4.5, 7.5)

// K
barPanel({ left: 88, width: 89, xmin: -0.61, xmax: 3.57, step: 4, barWidth: 14,
  segs: [{ top: 799.5, height: 66.5, min: 1, max: 10.5, ticks: [2, 4, 6, 8, 10] },
         { top: 873.5, height: 32.5, min: 0, max: 0.5, ticks: [0, 0.2, 0.4], fmt: v => v.toFixed(1) }],
  mean: kMean, err: kErr, sig: kSig, barNames: kNames, rotate: 45, xFont: 7, labelMargin: 4, title: [123, 772],
  yName: [[63, 852, 'Firefly/Renilla']] })

// L
barPanel({ left: 337, width: 83, xmin: -0.45, xmax: 3.7, step: 4, barWidth: 14,
  segs: [{ top: 834, height: 97, min: 0, max: 2.5, ticks: [0, 0.5, 1, 1.5, 2, 2.5], fmt: v => v.toFixed(1) }],
  mean: lMean, err: lErr, sig: lSig, barNames: lNames, rotate: 45, xFont: 7, labelMargin: 4, title: [368, 820],
  yName: [[311, 883, 'Firefly/Renilla']] })

// ---------------- G, H: sequences ----------------
function seqRows(rows, ys, colX) {
  const base = { fontSize: SEQ_SIZE, fontFamily: SEQ_FONT, fill: '#1a1a1a' }
  const rich = {
    g: Object.assign({}, base, { fontStyle: 'italic' }),
    n: Object.assign({}, base),
    wt: Object.assign({}, base, { fill: '#F2282A' }),
    mut: Object.assign({}, base, { fill: '#1FB04A' })
  }
  rows.forEach((r, k) => {
    graphics.push({ type: 'text', x: colX - 3, y: ys[k], silent: true,
      style: { text: '{g|' + r[0] + '}{n|' + r[1] + '}', rich: rich, align: 'right', verticalAlign: 'middle' } })
    graphics.push({ type: 'text', x: colX + 1, y: ys[k], silent: true,
      style: { text: '{n|' + r[2] + '}{' + r[5] + '|' + r[3] + '}{n|' + r[4] + '}', rich: rich, align: 'left', verticalAlign: 'middle' } })
  })
}
seqRows(gRows, [421, 434, 461, 474, 501, 514], 423)
seqRows(hRows, [546, 559, 576, 589], 416)

// ---------------- panel letters ----------------
const letters = [['A', 3, 11], ['B', 202, 12], ['C', 376, 12], ['D', 3, 170], ['E', 282, 166], ['F', 3, 393],
  ['G', 282, 407], ['H', 282, 532], ['I', 3, 584], ['J', 282, 612], ['K', 3, 772], ['L', 282, 820]]
letters.forEach(l => txt(l[1], l[2], l[0], { size: 16, weight: 'bold', align: 'left', color: '#000' }))

const chart = echarts.init(document.getElementById('chart'), null, { renderer: 'canvas' })
chart.setOption({
  animation: false,
  backgroundColor: '#fff',
  textStyle: { fontFamily: FONT },
  grid: grids,
  xAxis: xAxes,
  yAxis: yAxes,
  series: series,
  graphic: { elements: graphics }
})
</script>
</body>
</html>
